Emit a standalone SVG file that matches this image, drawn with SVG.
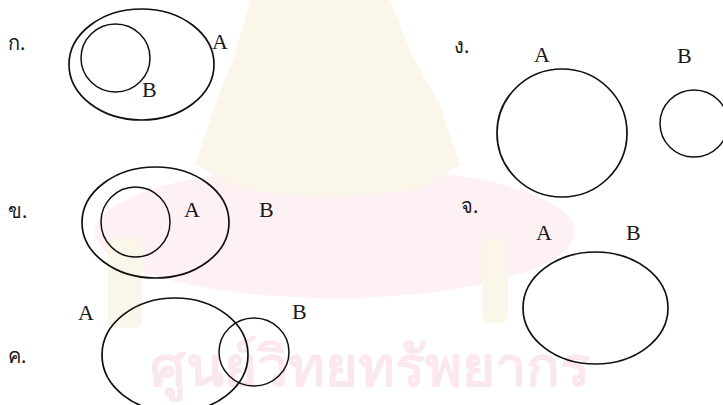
<svg xmlns="http://www.w3.org/2000/svg" width="723" height="405" viewBox="0 0 723 405">
  <style>
    .set { fill: none; stroke: #111; stroke-width: 1.7; }
    .inner { stroke-width: 1.5; }
    .lbl { font-family: "Liberation Serif", "DejaVu Serif", serif; font-size: 22px; fill: #1a1a1a; }
    .th { font-family: "Noto Sans", "DejaVu Sans", sans-serif; font-size: 20px; fill: #1a1a1a; }
    .wm-y { fill: #faf6ea; }
    .wm-p { fill: #fdf1f4; }
  </style>

  <rect width="723" height="405" fill="#ffffff"/>

  <!-- faint background emblem -->
  <g id="watermark">
    <ellipse class="wm-p" cx="335" cy="232" rx="240" ry="66"/>
    <path class="wm-y" d="M250 0 L390 0 L412 55 L440 105 L460 165 L415 190 L330 198 L245 190 L195 165 L215 105 L235 55 Z"/>
    <rect class="wm-y" x="108" y="238" width="34" height="90" rx="8"/>
    <rect class="wm-y" x="482" y="238" width="26" height="85" rx="8"/>
    <text x="150" y="386" font-family="Noto Sans, DejaVu Sans, sans-serif" font-size="56" font-weight="bold" fill="#fbe8ee">ศูนย์วิทยทรัพยากร</text>
  </g>

  <!-- ก. : B inside A -->
  <g id="choice-a">
    <text class="th" x="8" y="50">ก.</text>
    <ellipse class="set" cx="141.5" cy="64.5" rx="72.5" ry="55.5"/>
    <ellipse class="set inner" cx="115.5" cy="58" rx="34.5" ry="34"/>
    <text class="lbl" x="212" y="49">A</text>
    <text class="lbl" x="142" y="97">B</text>
  </g>

  <!-- ข. : circle inside A, B outside -->
  <g id="choice-b">
    <text class="th" x="8" y="218">ข.</text>
    <ellipse class="set" cx="155.5" cy="222.5" rx="73.5" ry="55.5"/>
    <ellipse class="set inner" cx="135.5" cy="222" rx="34.5" ry="35"/>
    <text class="lbl" x="184" y="217">A</text>
    <text class="lbl" x="259" y="217">B</text>
  </g>

  <!-- ค. : A and B overlap -->
  <g id="choice-c">
    <text class="th" x="8" y="363">ค.</text>
    <ellipse class="set" cx="175" cy="355" rx="73" ry="57"/>
    <ellipse class="set inner" cx="254" cy="352" rx="35" ry="34"/>
    <text class="lbl" x="78" y="320">A</text>
    <text class="lbl" x="292" y="319">B</text>
  </g>

  <!-- ง. : A and B disjoint -->
  <g id="choice-d">
    <text class="th" x="454" y="53">ง.</text>
    <ellipse class="set" cx="562" cy="133" rx="65" ry="64"/>
    <ellipse class="set inner" cx="694" cy="123.5" rx="34" ry="33.5"/>
    <text class="lbl" x="534" y="62">A</text>
    <text class="lbl" x="677" y="63">B</text>
  </g>

  <!-- จ. : A equals B -->
  <g id="choice-e">
    <text class="th" x="461" y="213">จ.</text>
    <ellipse class="set" cx="595.5" cy="308" rx="72.5" ry="56"/>
    <text class="lbl" x="536" y="240">A</text>
    <text class="lbl" x="626" y="240">B</text>
  </g>

  <g id="connectors"/>
</svg>
